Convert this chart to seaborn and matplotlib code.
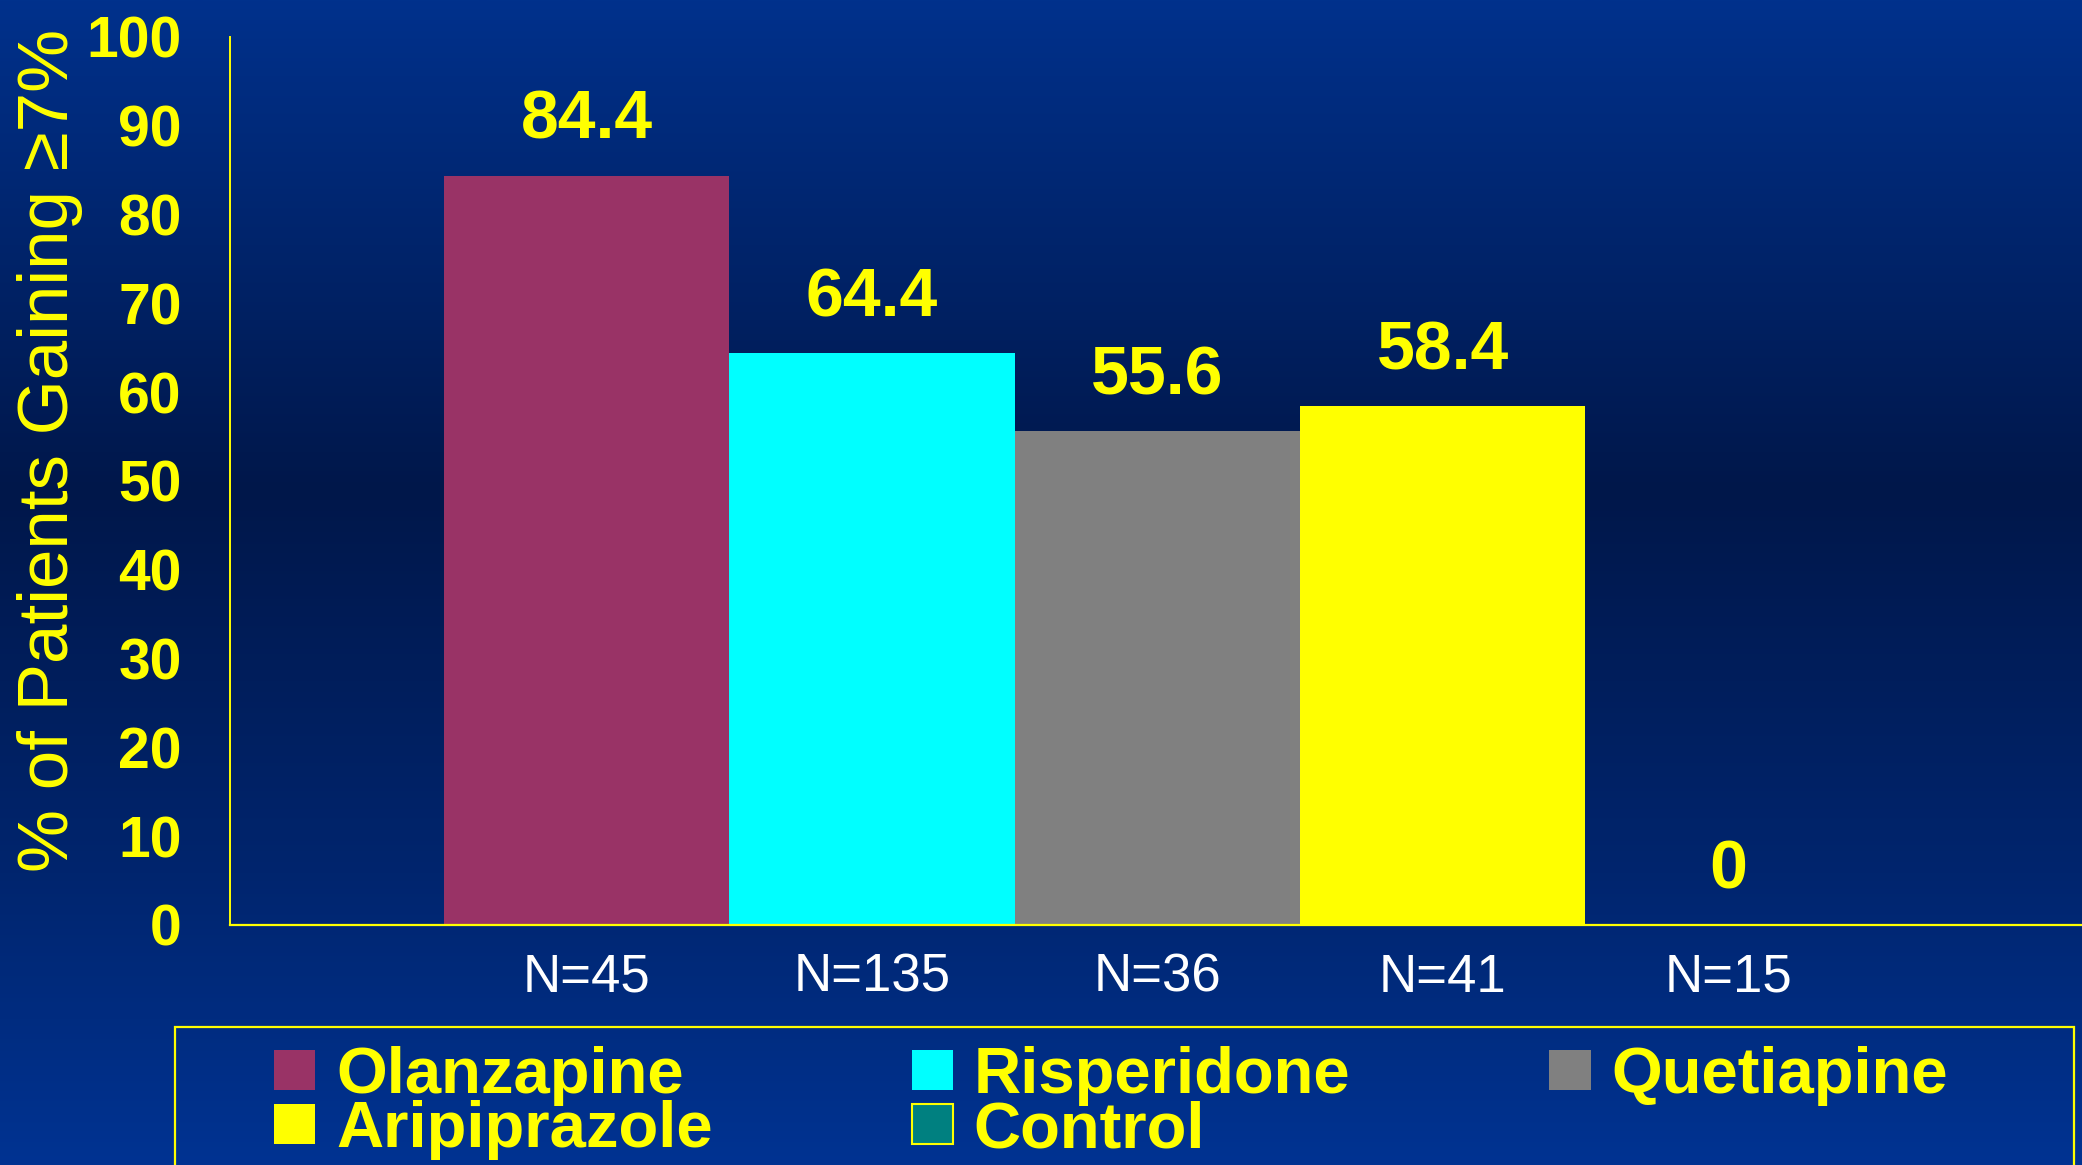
import numpy as np
import seaborn as sns
import matplotlib.pyplot as plt
from matplotlib.patches import Patch, Rectangle
from matplotlib.colors import to_rgb

drugs = ["Olanzapine", "Risperidone", "Quetiapine", "Aripiprazole", "Control"]
pct = [84.4, 64.4, 55.6, 58.4, 0]
n_labels = ["N=45", "N=135", "N=36", "N=41", "N=15"]
colors = ["#993366", "#00FFFF", "#808080", "#FFFF00", "#008080"]
yticks = [0, 10, 20, 30, 40, 50, 60, 70, 80, 90, 100]

sns.set_style("white")
plt.rcParams["font.family"] = ["Liberation Sans", "DejaVu Sans"]
YEL = "#FFFF00"

fig = plt.figure(figsize=(20.82, 11.65), dpi=100)

# background gradient, blue -> dark navy -> blue
bg = fig.add_axes([0, 0, 1, 1], zorder=-10)
stops = [(0.0, "#00318C"), (0.42, "#00174A"), (0.75, "#00256E"), (1.0, "#003392")]
ys = np.linspace(0, 1, 400)
grad = np.zeros((400, 1, 3))
for k in range(3):
    grad[:, 0, k] = np.interp(ys, [s[0] for s in stops], [to_rgb(s[1])[k] for s in stops])
bg.imshow(grad, aspect="auto", extent=[0, 1, 1, 0])
bg.set_xlim(0, 1)
bg.set_ylim(1, 0)
bg.axis("off")

ax = fig.add_axes([230 / 2082, 240 / 1165, 1852 / 2082, 888 / 1165])
ax.patch.set_alpha(0)

sns.barplot(x=drugs, y=pct, hue=drugs, palette=colors, saturation=1,
            width=1, legend=False, ax=ax, edgecolor="none")

ax.set_xlim(-1.25, 5.24)
ax.set_ylim(0, 100)
ax.set_yticks(yticks)
ax.set_yticklabels([str(t) for t in yticks], color=YEL, fontsize=41, fontweight="bold")
ax.set_xticks(range(len(drugs)))
ax.set_xticklabels(n_labels, color="white", fontsize=38)
ax.tick_params(axis="y", colors=YEL, length=13.7, width=1.4, pad=21, direction="out")
ax.tick_params(axis="x", length=0, pad=20)
ax.set_xlabel("")
ax.set_ylabel("")

for s in ["top", "right"]:
    ax.spines[s].set_visible(False)
ax.spines["left"].set_color(YEL)
ax.spines["left"].set_linewidth(1.4)
ax.spines["bottom"].set_color(YEL)
ax.spines["bottom"].set_linewidth(1.6)

for i, v in enumerate(pct):
    ax.annotate(f"{v:g}", (i, v), xytext=(0, 39.5), textcoords="offset points",
                ha="center", va="center", color=YEL, fontsize=49, fontweight="bold")

fig.text(50 / 2082, 1 - 450 / 1165, "% of Patients Gaining \u22657%", rotation=90,
         ha="center", va="center", color=YEL, fontsize=51)

# legend box
fig.patches.append(Rectangle((175 / 2082, -0.1), (2074 - 175) / 2082, (1165 - 1027) / 1165 + 0.1,
                             transform=fig.transFigure, fill=False, edgecolor=YEL, linewidth=1.6))

handles = {}
for d, c in zip(drugs, colors):
    handles[d] = Patch(facecolor=c, edgecolor=YEL if d == "Control" else "none", linewidth=1.5)
order = ["Olanzapine", "Aripiprazole", "Risperidone", "Control", "Quetiapine"]
leg = fig.legend([handles[d] for d in order], order, loc="upper left",
                 bbox_to_anchor=(274 / 2082, 1 - 1046 / 1165), ncol=3, frameon=False,
                 prop={"size": 47, "weight": "bold"}, handlelength=0.63, handleheight=0.58,
                 handletextpad=0.32, columnspacing=3.05, labelspacing=-0.09,
                 borderpad=0, borderaxespad=0)
for t in leg.get_texts():
    t.set_color(YEL)

fig.savefig("out.png", dpi=100)
